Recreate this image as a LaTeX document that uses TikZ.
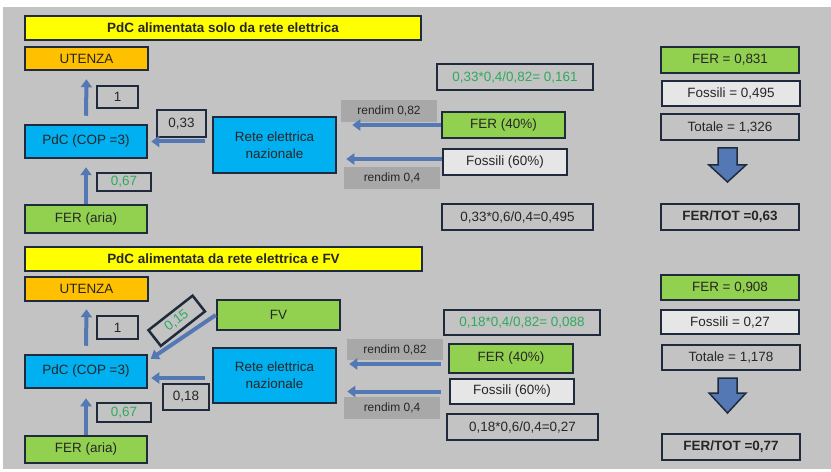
\documentclass[tikz,border=0pt]{standalone}
\usepackage{fontspec}
\setmainfont{Liberation Sans}
\usetikzlibrary{arrows.meta}

\definecolor{sfondo}{HTML}{C3C3C3}
\definecolor{giallo}{HTML}{FFFF00}
\definecolor{arancio}{HTML}{FFC000}
\definecolor{azzurro}{HTML}{00B0F0}
\definecolor{verde}{HTML}{92D050}
\definecolor{chiaro}{HTML}{E6E6E6}
\definecolor{grigio}{HTML}{A8A8A8}
\definecolor{bordo}{HTML}{1F2B3D}
\definecolor{freccia}{HTML}{5478B4}
\definecolor{testo}{HTML}{262626}
\definecolor{numverde}{HTML}{2EAA5C}

\tikzset{dim/.style 2 args={minimum width=#1bp,minimum height=#2bp}}

\begin{document}
\begin{tikzpicture}[x=1bp,y=-1bp]
\useasboundingbox (0,0) rectangle (831,472);
\fill[sfondo] (3,7) rectangle (831,469);

\begin{scope}[every node/.style={draw=bordo,line width=2.5bp,inner sep=0pt,text=testo,
                                 font=\fontsize{13.5}{17}\selectfont}]
    % solo rete elettrica
    \node[fill=giallo,dim={396}{24},font=\fontsize{13.5}{17}\selectfont\bfseries] (titleA) at (223,28) {PdC alimentata solo da rete elettrica};
    \node[fill=arancio,dim={123}{23}] (utenzaA) at (86.5,58.5) {UTENZA};
    \node[dim={41}{22}] (unoA) at (117.5,97) {1};
    \node[fill=azzurro,dim={122}{33}] (pdcA) at (86,141.5) {PdC (COP =3)};
    \node[dim={54}{18},text=numverde] (ariaValA) at (124,182) {0,67};
    \node[fill=verde,dim={122}{28}] (ariaA) at (86,219) {FER (aria)};
    \node[dim={49}{27}] (reteValA) at (181.5,123.5) {0,33};
    \node[fill=azzurro,dim={123}{56},align=center] (reteA) at (274.5,145) {Rete elettrica\\nazionale};
    \node[draw=none,fill=grigio,dim={96}{22},font=\fontsize{12}{14}\selectfont] (rendFerA) at (389,111) {rendim 0,82};
    \node[draw=none,fill=grigio,dim={96}{22},font=\fontsize{12}{14}\selectfont] (rendFosA) at (392,178) {rendim 0,4};
    \node[fill=verde,dim={123}{26}] (ferA) at (503.5,125) {FER (40\%)};
    \node[fill=chiaro,dim={124}{26}] (fosA) at (505,162) {Fossili (60\%)};
    \node[dim={156}{26},text=numverde] (calcFerA) at (515,77) {0,33*0,4/0,82= 0,161};
    \node[dim={151}{26}] (calcFosA) at (517.5,217) {0,33*0,6/0,4=0,495};
    \node[fill=verde,dim={138}{26}] (totFerA) at (730,60) {FER = 0,831};
    \node[fill=chiaro,dim={138}{25}] (totFosA) at (731,93.5) {Fossili = 0,495};
    \node[dim={138}{26}] (totA) at (730,127) {Totale = 1,326};
    \node[dim={138}{26},font=\fontsize{13.5}{17}\selectfont\bfseries] (ratioA) at (730,217) {FER/TOT =0,63};

    % rete elettrica e FV
    \node[fill=giallo,dim={397}{24},font=\fontsize{13.5}{17}\selectfont\bfseries] (titleB) at (223.5,259) {PdC alimentata da rete elettrica e FV};
    \node[fill=arancio,dim={123}{24}] (utenzaB) at (86.5,289) {UTENZA};
    \node[dim={41}{23}] (unoB) at (117.5,327.5) {1};
    \node[dim={56}{20},text=numverde,rotate=38] (fvValB) at (176.7,320.8) {0,15};
    \node[fill=verde,dim={123}{30}] (fvB) at (278.5,315) {FV};
    \node[fill=azzurro,dim={122}{33}] (pdcB) at (86,371.5) {PdC (COP =3)};
    \node[fill=azzurro,dim={123}{55},align=center] (reteB) at (274.5,375.5) {Rete elettrica\\nazionale};
    \node[dim={46}{26}] (reteValB) at (186,397) {0,18};
    \node[dim={54}{19},text=numverde] (ariaValB) at (124,412.5) {0,67};
    \node[fill=verde,dim={122}{27}] (ariaB) at (86,449.5) {FER (aria)};
    \node[draw=none,fill=grigio,dim={96}{21},font=\fontsize{12}{14}\selectfont] (rendFerB) at (395,349.5) {rendim 0,82};
    \node[draw=none,fill=grigio,dim={96}{22},font=\fontsize{12}{14}\selectfont] (rendFosB) at (392,408) {rendim 0,4};
    \node[fill=verde,dim={124}{29}] (ferB) at (511,358.5) {FER (40\%)};
    \node[fill=chiaro,dim={124}{25}] (fosB) at (512,391.5) {Fossili (60\%)};
    \node[dim={156}{25},text=numverde] (calcFerB) at (522,322.5) {0,18*0,4/0,82= 0,088};
    \node[dim={151}{26}] (calcFosB) at (522.5,427) {0,18*0,6/0,4=0,27};
    \node[fill=verde,dim={138}{25}] (totFerB) at (730,287.5) {FER = 0,908};
    \node[fill=chiaro,dim={138}{24}] (totFosB) at (730,322) {Fossili = 0,27};
    \node[dim={138}{25}] (totB) at (731,357.5) {Totale = 1,178};
    \node[dim={138}{26},font=\fontsize{13.5}{17}\selectfont\bfseries] (ratioB) at (731,447) {FER/TOT =0,77};
\end{scope}

\begin{scope}[>={Triangle[length=8bp,width=11bp]},
              every edge/.style={draw=freccia,line width=4bp}]
    \path [->] (pdcA.north) edge[shorten <=8bp,shorten >=8bp] (utenzaA.south);
    \path [->] (ariaA.north) edge[shorten >=8bp] (pdcA.south);
    \path [->] (reteA.west |- pdcA.east) edge[shorten <=7bp,shorten >=3bp] (pdcA.east);
    \path [->] (ferA.west) edge[shorten >=15bp] (ferA.west -| reteA.east);
    \path [->] ([yshift=3bp]fosA.west) edge[shorten >=9bp] ([yshift=3bp]fosA.west -| reteA.east);

    \path [->] (pdcB.north) edge[shorten <=8bp,shorten >=7bp] (utenzaB.south);
    \path [->] (ariaB.north) edge[shorten >=9bp] (pdcB.south);
    \path [->] (fvB.west) edge[shorten >=3bp] (pdcB.10);
    \path [->] ([yshift=-2.5bp]reteB.west) edge[shorten <=7bp,shorten >=3bp] ([yshift=-2.5bp]reteB.west -| pdcB.east);
    \path [->] ([yshift=-5.5bp]ferB.west) edge[shorten <=7bp,shorten >=12bp] ([yshift=-5.5bp]ferB.west -| reteB.east);
    \path [->] (fosB.west) edge[shorten <=8bp,shorten >=10bp] (fosB.west -| reteB.east);
\end{scope}

% frecce verso il rapporto
\foreach \t/\s/\p in {148/165/182, 378/393/413}
    \filldraw[fill=freccia,draw=bordo,line width=1.5bp]
        (718,\t) -- (737,\t) -- (737,\s) -- (746,\s) -- (727.5,\p) -- (709,\s) -- (718,\s) -- cycle;
\end{tikzpicture}
\end{document}
